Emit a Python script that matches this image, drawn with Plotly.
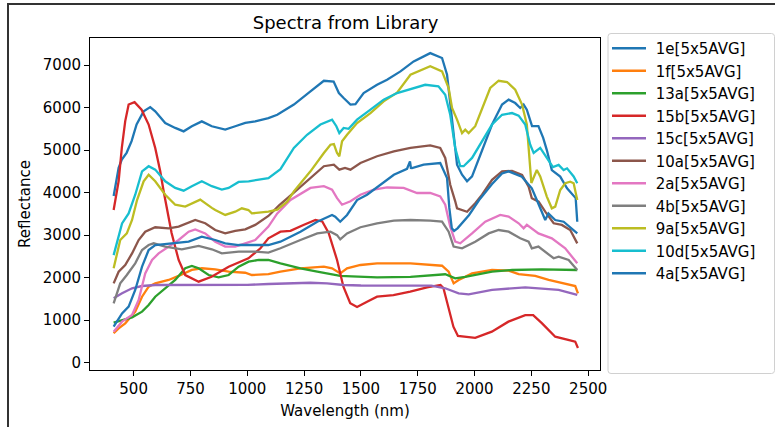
import plotly.graph_objects as go

names = ["1e[5x5AVG]", "1f[5x5AVG]", "13a[5x5AVG]", "15b[5x5AVG]", "15c[5x5AVG]",
         "10a[5x5AVG]", "2a[5x5AVG]", "4b[5x5AVG]", "9a[5x5AVG]", "10d[5x5AVG]", "4a[5x5AVG]"]
colors = ["#1f77b4", "#ff7f0e", "#2ca02c", "#d62728", "#9467bd",
          "#8c564b", "#e377c2", "#7f7f7f", "#bcbd22", "#17becf", "#1f77b4"]

wl_1e = [412, 434, 448, 469, 491, 513, 544, 573, 595, 639, 683, 720, 756, 800, 844, 903, 947, 991, 1035, 1093,
         1132, 1205, 1278, 1337, 1380, 1403, 1424, 1454, 1476, 1512, 1571, 1615, 1674, 1732, 1805, 1857, 1879,
         1893, 1908, 1923, 1945, 1967, 1989, 2033, 2077, 2121, 2150, 2179, 2201, 2216, 2230, 2253, 2281, 2302,
         2318, 2340, 2377, 2407, 2436, 2445, 2452]
r_1e = [3920, 4580, 4775, 4935, 5210, 5600, 5910, 6010, 5910, 5635, 5520, 5440, 5560, 5675, 5560, 5480, 5560, 5640,
        5675, 5750, 5830, 6070, 6380, 6630, 6610, 6340, 6225, 6070, 6080, 6340, 6535, 6655, 6850, 7085, 7280, 7165,
        6770, 6070, 5285, 4655, 4420, 4265, 4380, 4970, 5600, 6070, 6185, 6105, 5990, 6070, 5950, 5565, 5565, 5285,
        5000, 4530, 4375, 4100, 3905, 3870, 3315]

wl_1f = [412, 434, 463, 507, 537, 566, 595, 654, 698, 756, 800, 859, 918, 991, 1020, 1093, 1146, 1234, 1337, 1373,
         1409, 1439, 1498, 1571, 1718, 1783, 1857, 1886, 1908, 1930, 1989, 2077, 2150, 2194, 2267, 2326, 2399,
         2443, 2455]
r_1f = [691, 808, 926, 1200, 1552, 1787, 1866, 1945, 2040, 2180, 2220, 2196, 2140, 2115, 2062, 2080, 2140, 2220,
        2257, 2220, 2100, 2220, 2297, 2337, 2337, 2310, 2280, 2140, 1866, 1945, 2100, 2180, 2165, 2085, 2040, 1945,
        1866, 1803, 1630]

wl_13a = [412, 449, 493, 537, 566, 595, 639, 683, 727, 756, 786, 830, 874, 918, 962, 1006, 1050, 1093, 1146, 1234,
          1308, 1409, 1460, 1571, 1718, 1849, 1871, 1915, 1959, 2077, 2165, 2296, 2452]
r_13a = [941, 1004, 1067, 1200, 1357, 1552, 1750, 1945, 2220, 2274, 2220, 2062, 2008, 2062, 2257, 2375, 2415, 2415,
         2337, 2220, 2140, 2040, 2030, 2008, 2020, 2062, 2080, 1984, 2020, 2140, 2180, 2196, 2180]

wl_15b = [412, 434, 448, 463, 478, 504, 535, 566, 595, 617, 632, 645, 667, 698, 727, 786, 843, 918, 975, 1005,
          1058, 1093, 1146, 1190, 1247, 1300, 1330, 1358, 1395, 1423, 1453, 1483, 1527, 1571, 1643, 1717, 1791,
          1850, 1863, 1885, 1907, 1927, 2003, 2076, 2149, 2223, 2258, 2296, 2355, 2412, 2443, 2455]
r_15b = [3590, 4270, 5050, 5680, 6070, 6125, 5950, 5600, 5050, 4500, 4030, 3640, 3050, 2415, 2060, 1905, 2020, 2257,
         2375, 2455, 2690, 2925, 3080, 3100, 3238, 3355, 3320, 3050, 2415, 1787, 1400, 1310, 1435, 1552, 1590, 1670,
         1773, 1827, 1755, 1317, 846, 628, 583, 730, 965, 1120, 1120, 930, 610, 535, 495, 345]

wl_15c = [412, 449, 493, 537, 595, 700, 800, 888, 1000, 1093, 1200, 1278, 1351, 1424, 1500, 1645, 1810, 1871, 1930,
          1974, 2077, 2223, 2370, 2452]
r_15c = [1514, 1632, 1750, 1803, 1827, 1827, 1827, 1815, 1830, 1850, 1865, 1880, 1865, 1827, 1815, 1810, 1810, 1750,
         1632, 1608, 1710, 1773, 1710, 1592]

wl_10a = [412, 434, 463, 493, 522, 551, 595, 654, 698, 771, 815, 859, 903, 947, 991, 1035, 1093, 1140, 1205, 1278,
          1337, 1381, 1405, 1430, 1454, 1498, 1571, 1645, 1718, 1805, 1849, 1871, 1893, 1915, 1923, 1967, 2003,
          2033, 2077, 2121, 2165, 2209, 2238, 2252, 2282, 2311, 2348, 2384, 2421, 2452]
r_10a = [1865, 2140, 2295, 2570, 2885, 3080, 3185, 3160, 3200, 3355, 3280, 3120, 3040, 3100, 3135, 3240, 3450, 3700,
         4000, 4340, 4620, 4655, 4540, 4580, 4540, 4695, 4855, 4970, 5050, 5110, 5050, 4815, 4185, 3795, 3630, 3550,
         3750, 3950, 4300, 4500, 4510, 4415, 4140, 3865, 3785, 3550, 3278, 3240, 3120, 2805]

wl_2a = [412, 449, 493, 522, 551, 581, 610, 654, 698, 742, 771, 815, 859, 903, 947, 991, 1035, 1093, 1132, 1190,
         1278, 1337, 1373, 1395, 1417, 1454, 1498, 1557, 1615, 1688, 1747, 1805, 1849, 1871, 1893, 1915, 1937,
         1989, 2047, 2113, 2150, 2194, 2216, 2230, 2281, 2340, 2399, 2452]
r_2a = [730, 965, 1120, 1475, 2100, 2415, 2570, 2730, 2885, 3080, 3135, 3040, 2845, 2730, 2730, 2807, 2885, 3200,
        3510, 3825, 4110, 4150, 4070, 3870, 3715, 3795, 3950, 4070, 4120, 4110, 3990, 3990, 3910, 3715, 3200, 2845,
        2807, 3040, 3315, 3473, 3435, 3278, 3160, 3240, 3040, 2925, 2690, 2337]

wl_4b = [412, 441, 470, 507, 537, 566, 588, 639, 712, 786, 844, 888, 962, 1035, 1093, 1146, 1234, 1308, 1366,
         1395, 1409, 1439, 1498, 1571, 1645, 1718, 1805, 1857, 1886, 1908, 1945, 2003, 2062, 2106, 2150, 2201,
         2238, 2252, 2281, 2326, 2348, 2370, 2414, 2452]
r_4b = [1396, 1866, 2062, 2337, 2650, 2767, 2807, 2730, 2667, 2745, 2667, 2570, 2610, 2610, 2590, 2690, 2885, 3040,
        3080, 3000, 2900, 3040, 3185, 3278, 3340, 3355, 3340, 3315, 3080, 2730, 2690, 2845, 3040, 3120, 3080, 2925,
        2845, 2690, 2730, 2532, 2455, 2493, 2415, 2180]

wl_9a = [412, 441, 470, 493, 515, 544, 566, 595, 639, 683, 727, 760, 793, 844, 859, 903, 947, 976, 1005, 1020,
         1093, 1132, 1176, 1205, 1278, 1337, 1366, 1381, 1395, 1405, 1417, 1439, 1483, 1542, 1600, 1659, 1718,
         1805, 1857, 1886, 1901, 1923, 1945, 1959, 1974, 2003, 2033, 2069, 2106, 2143, 2179, 2209, 2230, 2243,
         2250, 2274, 2289, 2318, 2340, 2355, 2377, 2399, 2421, 2436, 2452]
r_9a = [2220, 2885, 3040, 3355, 3825, 4265, 4420, 4265, 3950, 3715, 3670, 3750, 3835, 3640, 3590, 3475, 3550, 3630,
        3590, 3510, 3550, 3600, 3785, 4030, 4500, 4930, 5125, 5140, 4930, 4855, 5205, 5360, 5635, 5870, 6145, 6350,
        6770, 6970, 6850, 6460, 5990, 5715, 5400, 5480, 5400, 5560, 5990, 6460, 6630, 6600, 6420, 6070, 5600, 4700,
        4225, 4530, 4380, 3905, 3630, 3670, 4060, 4220, 4255, 4220, 3825]

wl_10d = [412, 449, 478, 500, 507, 537, 566, 595, 639, 683, 720, 756, 800, 844, 888, 918, 962, 1006, 1050, 1093,
          1146, 1205, 1263, 1322, 1373, 1392, 1405, 1424, 1446, 1483, 1542, 1600, 1659, 1732, 1783, 1841, 1871,
          1893, 1915, 1937, 1952, 1989, 2033, 2077, 2121, 2165, 2194, 2223, 2245, 2260, 2289, 2320, 2345, 2370,
          2392, 2407, 2436, 2452]
r_10d = [2530, 3275, 3510, 3825, 3950, 4500, 4620, 4540, 4265, 4110, 4045, 4150, 4265, 4150, 4070, 4110, 4250, 4265,
         4300, 4340, 4550, 5050, 5360, 5600, 5715, 5560, 5400, 5520, 5500, 5715, 5950, 6185, 6340, 6460, 6535, 6500,
         6300, 5830, 5050, 4620, 4620, 4815, 5205, 5600, 5830, 5870, 5810, 5600, 5125, 4930, 5050, 4800, 4600, 4650,
         4530, 4570, 4380, 4220]

wl_4a = [412, 449, 478, 507, 537, 566, 595, 668, 742, 800, 859, 903, 962, 1035, 1093, 1146, 1234, 1308, 1373, 1387,
         1409, 1439, 1483, 1527, 1586, 1645, 1703, 1716, 1720, 1725, 1776, 1849, 1879, 1889, 1900, 1910, 1925,
         1976, 2020, 2077, 2121, 2150, 2208, 2252, 2274, 2296, 2311, 2325, 2355, 2392, 2428, 2452]
r_4a = [846, 1160, 1317, 1710, 2257, 2650, 2767, 2807, 2845, 2962, 2885, 2807, 2767, 2767, 2767, 2845, 3080, 3315,
        3473, 3435, 3315, 3473, 3825, 3950, 4185, 4420, 4560, 4735, 4580, 4575, 4655, 4695, 4340, 3640, 3160, 3100,
        3160, 3473, 3825, 4200, 4450, 4500, 4375, 4100, 3825, 3550, 3355, 3510, 3355, 3315, 3160, 3040]

wavelengths = [wl_1e, wl_1f, wl_13a, wl_15b, wl_15c, wl_10a, wl_2a, wl_4b, wl_9a, wl_10d, wl_4a]
reflectances = [r_1e, r_1f, r_13a, r_15b, r_15c, r_10a, r_2a, r_4b, r_9a, r_10d, r_4a]

x_ticks = [500, 750, 1000, 1250, 1500, 1750, 2000, 2250, 2500]
y_ticks = [0, 1000, 2000, 3000, 4000, 5000, 6000, 7000]

FONT = "DejaVu Sans"

fig = go.Figure()
for n, c, x, y in zip(names, colors, wavelengths, reflectances):
    fig.add_trace(go.Scatter(x=x, y=y, mode="lines", name="\u00a0" + n,
                             line=dict(color=c, width=2.3)))

# plot area in pixels: x 90..600, y 38..370
W, H = 775, 427
L, R, T, B = 90, 600, 38, 370
def px(xp):
    return (xp - L) / (R - L)
def py(yp):
    return (B - yp) / (B - T)

# rounded legend frame
x0, x1, y0, y1 = px(608), px(774.5), py(373.5), py(33.5)
rx, ry = 3 / (R - L), 3 / (B - T)
legend_path = (f"M{x0+rx},{y1} L{x1-rx},{y1} Q{x1},{y1} {x1},{y1-ry} L{x1},{y0+ry} Q{x1},{y0} {x1-rx},{y0} "
               f"L{x0+rx},{y0} Q{x0},{y0} {x0},{y0+ry} L{x0},{y1-ry} Q{x0},{y1} {x0+rx},{y1} Z")

# outer figure frame: left edge and top edge
frame_path = f"M{px(8)},{py(427)} L{px(8)},{py(4)} L{px(775)},{py(4)}"

axis_common = dict(showgrid=False, zeroline=False, showline=True, linecolor="black", linewidth=1,
                   mirror=True, ticks="outside", ticklen=5, tickwidth=1, tickcolor="black",
                   tickfont=dict(family=FONT, size=15, color="black"))

fig.update_layout(
    width=W, height=H,
    margin=dict(l=L, r=W - R, t=T, b=H - B, autoexpand=False),
    paper_bgcolor="white", plot_bgcolor="white",
    font=dict(family=FONT, size=15, color="black"),
    title=dict(text="Spectra from Library", font=dict(family=FONT, size=18, color="black"),
               x=345.5 / W, xanchor="center", xref="container",
               y=1 - 23 / H, yanchor="middle", yref="container"),
    xaxis=dict(range=[308, 2552], tickvals=x_ticks, ticktext=[str(v) for v in x_ticks],
               title=dict(text="Wavelength (nm)", font=dict(family=FONT, size=15, color="black"), standoff=8),
               **axis_common),
    yaxis=dict(range=[-172, 7635], tickvals=y_ticks, ticktext=[str(v) for v in y_ticks],
               title=dict(text="Reflectance", font=dict(family=FONT, size=15, color="black"), standoff=8),
               **axis_common),
    showlegend=True,
    legend=dict(x=px(607), y=py(32), xanchor="left", yanchor="top", xref="paper", yref="paper",
                bgcolor="rgba(0,0,0,0)", borderwidth=0, font=dict(family=FONT, size=15, color="black"),
                tracegroupgap=0, itemwidth=34, maxheight=420),
    shapes=[
        dict(type="path", path=frame_path, xref="paper", yref="paper",
             line=dict(color="#333333", width=2), layer="above"),
        dict(type="path", path=legend_path, xref="paper", yref="paper",
             line=dict(color="#d0d0d0", width=1), fillcolor="rgba(0,0,0,0)", layer="below"),
    ],
)

fig.write_html("out.html")
